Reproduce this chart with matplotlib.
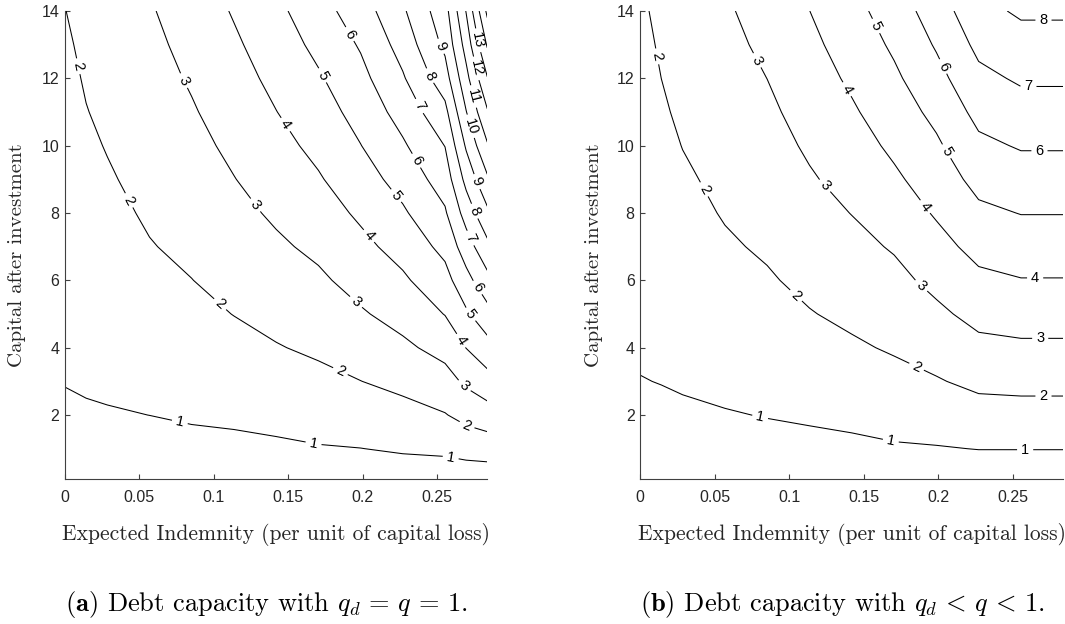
import matplotlib
matplotlib.use("Agg")
import matplotlib.pyplot as plt
import numpy as np

plt.rcParams['font.family'] = ['Liberation Sans', 'DejaVu Sans']
plt.rcParams['mathtext.fontset'] = 'cm'

# grids (expected indemnity x capital after investment)
x_vals_a = [0, 0.0142, 0.0284, 0.0568, 0.0851, 0.1135, 0.1419, 0.1703, 0.1987, 0.2270, 0.2554, 0.2696, 0.2838]
x_vals_b = [0, 0.0142, 0.0284, 0.0568, 0.0851, 0.1135, 0.1419, 0.1703, 0.1987, 0.2270, 0.2554, 0.2838]
y_vals = [0.1, 1, 2, 3, 4, 5, 6, 7, 8, 9, 10, 11, 12, 13, 14]

# debt capacity, q_d = q = 1 (rows follow y_vals, columns follow x_vals_a)
debt_a = [
    [0.759, 0.724, 0.699, 0.639, 0.626, 0.563, 0.546, 0.578, 0.540, 0.559, 0.481, 0.446, 0.427],
    [0.838, 0.828, 0.822, 0.811, 0.834, 0.830, 0.870, 0.947, 0.990, 1.088, 1.178, 1.337, 1.438],
    [0.927, 0.943, 0.959, 1.002, 1.065, 1.128, 1.230, 1.357, 1.495, 1.676, 1.953, 2.292, 2.549],
    [1.015, 1.057, 1.096, 1.193, 1.296, 1.426, 1.590, 1.766, 1.990, 2.253, 2.631, 3.169, 3.628],
    [1.103, 1.172, 1.233, 1.385, 1.527, 1.723, 1.950, 2.149, 2.450, 2.815, 3.321, 4.017, 4.625],
    [1.192, 1.287, 1.370, 1.576, 1.758, 2.017, 2.256, 2.497, 2.900, 3.340, 4.031, 4.850, 5.649],
    [1.280, 1.402, 1.506, 1.767, 1.988, 2.256, 2.554, 2.844, 3.328, 3.848, 4.656, 5.667, 6.691],
    [1.368, 1.517, 1.643, 1.958, 2.176, 2.495, 2.851, 3.196, 3.748, 4.355, 5.274, 6.518, 7.737],
    [1.457, 1.632, 1.780, 2.106, 2.362, 2.734, 3.140, 3.554, 4.163, 4.863, 5.884, 7.405, 8.789],
    [1.545, 1.747, 1.917, 2.241, 2.547, 2.974, 3.421, 3.911, 4.571, 5.367, 6.455, 8.286, 9.842],
    [1.633, 1.862, 2.040, 2.377, 2.733, 3.195, 3.702, 4.242, 4.980, 5.869, 7.021, 9.126, 10.895],
    [1.722, 1.977, 2.140, 2.510, 2.918, 3.414, 3.983, 4.565, 5.349, 6.381, 7.715, 9.966, 11.900],
    [1.810, 2.064, 2.245, 2.648, 3.095, 3.632, 4.243, 4.887, 5.717, 6.897, 8.567, 10.696, 12.947],
    [1.898, 2.144, 2.350, 2.783, 3.264, 3.851, 4.501, 5.241, 6.096, 7.381, 9.222, 11.384, 14.111],
    [1.987, 2.224, 2.450, 2.919, 3.434, 4.078, 4.760, 5.611, 6.515, 7.857, 9.625, 12.045, 15.222],
]

# debt capacity, q_d < q < 1 (rows follow y_vals, columns follow x_vals_b)
debt_b = [
    [0.765, 0.693, 0.656, 0.608, 0.599, 0.545, 0.524, 0.556, 0.510, 0.469, 0.446, 0.446],
    [0.823, 0.792, 0.780, 0.776, 0.800, 0.804, 0.837, 0.916, 0.951, 1.018, 1.019, 1.019],
    [0.904, 0.902, 0.917, 0.963, 1.022, 1.092, 1.184, 1.316, 1.441, 1.628, 1.656, 1.656],
    [0.985, 1.012, 1.055, 1.149, 1.245, 1.380, 1.531, 1.716, 1.931, 2.213, 2.266, 2.266],
    [1.067, 1.122, 1.193, 1.336, 1.468, 1.669, 1.878, 2.094, 2.376, 2.760, 2.844, 2.844],
    [1.148, 1.232, 1.330, 1.522, 1.690, 1.957, 2.182, 2.420, 2.812, 3.284, 3.406, 3.406],
    [1.229, 1.342, 1.468, 1.709, 1.913, 2.200, 2.461, 2.746, 3.247, 3.792, 3.961, 3.961],
    [1.310, 1.452, 1.605, 1.896, 2.109, 2.435, 2.740, 3.083, 3.680, 4.298, 4.495, 4.495],
    [1.391, 1.562, 1.743, 2.059, 2.288, 2.671, 3.020, 3.460, 4.098, 4.803, 5.026, 5.026],
    [1.472, 1.672, 1.880, 2.194, 2.465, 2.906, 3.307, 3.838, 4.474, 5.300, 5.553, 5.553],
    [1.554, 1.782, 2.017, 2.329, 2.646, 3.130, 3.595, 4.184, 4.850, 5.793, 6.079, 6.079],
    [1.635, 1.892, 2.149, 2.464, 2.825, 3.346, 3.882, 4.506, 5.255, 6.279, 6.605, 6.605],
    [1.716, 2.003, 2.280, 2.599, 3.004, 3.562, 4.156, 4.829, 5.681, 6.760, 7.126, 7.126],
    [1.797, 2.088, 2.412, 2.734, 3.200, 3.778, 4.420, 5.153, 6.098, 7.238, 7.631, 7.631],
    [1.878, 2.173, 2.543, 2.869, 3.396, 3.994, 4.683, 5.479, 6.490, 7.714, 8.137, 8.137],
]

levels_a = list(range(1, 17))
levels_b = list(range(1, 9))

x_ticks = [0, 0.05, 0.1, 0.15, 0.2, 0.25]
x_ticklabels = ['0', '0.05', '0.1', '0.15', '0.2', '0.25']
y_ticks = [2, 4, 6, 8, 10, 12, 14]

# where the inline labels sit
labels_at_a = [(0.0079, 12.35), (0.0415, 8.34), (0.103, 5.23), (0.184, 3.2), (0.27, 1.69),
               (0.077, 1.76), (0.167, 1.15), (0.259, 0.69),
               (0.0784, 11.9), (0.1266, 8.19), (0.195, 5.33), (0.268, 2.85),
               (0.148, 10.62), (0.2038, 7.3), (0.2655, 4.19),
               (0.1714, 12.05), (0.2218, 8.49), (0.2722, 4.98),
               (0.1904, 13.29), (0.234, 9.5), (0.2767, 5.77),
               (0.2374, 11.16), (0.2722, 7.25),
               (0.2464, 12.1), (0.2744, 8.04),
               (0.252, 12.94), (0.2767, 8.93),
               (0.2722, 10.57), (0.2744, 11.46), (0.2767, 12.3), (0.2789, 13.14)]
labels_at_b = [(0.0099, 12.64), (0.0424, 8.69), (0.1028, 5.47), (0.185, 3.4), (0.2705, 2.54),
               (0.0804, 1.94), (0.168, 1.22), (0.2582, 0.97),
               (0.0769, 12.5), (0.122, 8.74), (0.187, 5.77), (0.2683, 4.27),
               (0.138, 11.66), (0.19, 8.15), (0.2649, 6.07),
               (0.157, 13.53), (0.2035, 9.78),
               (0.203, 12.35), (0.2678, 9.85),
               (0.2604, 11.75), (0.2705, 13.73)]

W, H = 1065, 624
fig = plt.figure(figsize=(W / 100, H / 100), dpi=100)
ax_a = fig.add_axes([65 / W, 1 - 479 / H, 422.3 / W, 468 / H])
ax_b = fig.add_axes([640.3 / W, 1 - 479 / H, 423 / W, 468 / H])

axis_col = '#404040'
for ax, xs, z, lev, where in [(ax_a, x_vals_a, debt_a, levels_a, labels_at_a),
                              (ax_b, x_vals_b, debt_b, levels_b, labels_at_b)]:
    X, Y = np.meshgrid(xs, y_vals)
    cs = ax.contour(X, Y, np.array(z), levels=lev, colors='black', linewidths=0.75)
    ax.clabel(cs, inline=True, fmt='%d', fontsize=10.5, manual=where, inline_spacing=4)
    ax.set_xlim(0, 0.2838)
    ax.set_ylim(0.1, 14)
    ax.set_xticks(x_ticks)
    ax.set_xticklabels(x_ticklabels)
    ax.set_yticks(y_ticks)
    for s in ['top', 'right']:
        ax.spines[s].set_visible(False)
    for s in ['left', 'bottom']:
        ax.spines[s].set_color(axis_col)
        ax.spines[s].set_linewidth(0.8)
    ax.tick_params(direction='in', length=3.5, width=0.8, colors=axis_col,
                   labelcolor='#262626', labelsize=11.5)
    ax.tick_params(axis='x', pad=8)
    ax.tick_params(axis='y', pad=4)

fig.text(17 / W, 1 - 255 / H, 'Capital after investment', rotation=90,
         ha='center', va='center', family='cmr10', fontsize=15, color='#262626')
fig.text(594 / W, 1 - 255 / H, 'Capital after investment', rotation=90,
         ha='center', va='center', family='cmr10', fontsize=15, color='#262626')
fig.text(276 / W, 1 - 535 / H, 'Expected Indemnity (per unit of capital loss)',
         ha='center', va='center', family='cmr10', fontsize=15.5, color='#262626')
fig.text(851.7 / W, 1 - 535 / H, 'Expected Indemnity (per unit of capital loss)',
         ha='center', va='center', family='cmr10', fontsize=15.5, color='#262626')

cap_kw = dict(family='cmr10', fontsize=19, color='black', ha='left', va='center')
fig.text(65 / W, 1 - 604 / H, r'$\mathbf{(a)}$ Debt capacity with $q_d\,=\,q\,=\,1$.', **cap_kw)
fig.text(640 / W, 1 - 604 / H, r'$\mathbf{(b)}$ Debt capacity with $q_d\,<\,q\,<\,1$.', **cap_kw)

fig.savefig('out.png', dpi=100)
